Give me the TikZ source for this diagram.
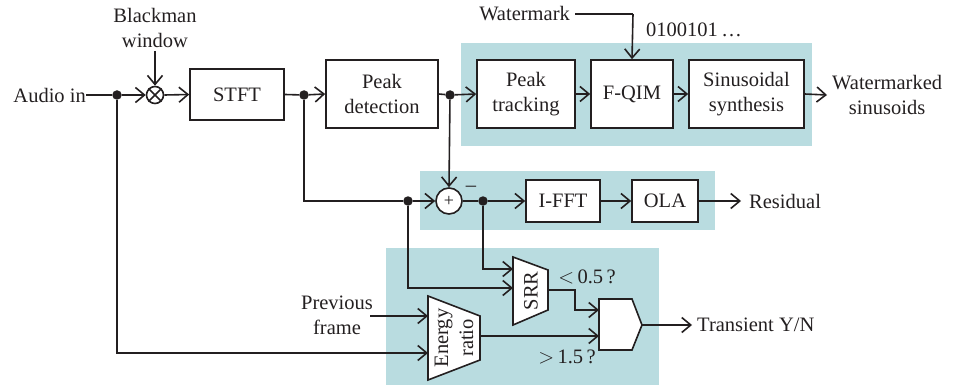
\documentclass[tikz,border=0pt]{standalone}
\usepackage{fontspec}
\setmainfont{Liberation Serif}
\usetikzlibrary{arrows.meta}
\definecolor{teal}{RGB}{185,220,224}
\definecolor{ink}{RGB}{35,31,32}
\begin{document}
\begin{tikzpicture}[x=1pt,y=-1pt,
  every node/.style={font=\fontsize{20.5}{25}\selectfont, text=ink},
  line/.style={draw=ink, line width=1.6},
  arr/.style={line, -{Straight Barb[length=9,width=15,line width=1.6]}},
  blk/.style={draw=ink, line width=1.6, fill=white, align=center, inner sep=0},
  dot/.style={circle, fill=ink, inner sep=0, minimum size=9.5},
  lbl/.style={align=center, inner sep=0}]
\useasboundingbox (0,0) rectangle (966,385);
% teal backgrounds
\fill[teal] (461,43) rectangle (812,146);
\fill[teal] (420,171) rectangle (715,230);
\fill[teal] (386,248) rectangle (659,385);

% top row
\node[lbl, anchor=east] (audio) at (86,95) {Audio in};
\node[dot] (d1) at (117,95) {};
\node[circle, draw=ink, line width=1.6, fill=white, minimum size=17, inner sep=0] (mult) at (155,95) {};
\draw[line] (mult.north west) -- (mult.south east) (mult.north east) -- (mult.south west);
\node[lbl] (bw) at (155,28) {Blackman\\window};
\node[blk, minimum width=94, minimum height=51] (stft) at (237,94.5) {STFT};
\node[dot] (d2) at (304,95) {};
\node[blk, minimum width=112, minimum height=68] (pd) at (382,94) {Peak\\detection};
\node[dot] (d3) at (450,95) {};
\node[blk, minimum width=98, minimum height=68] (pt) at (526,94) {Peak\\tracking};
\node[blk, minimum width=82, minimum height=68] (fqim) at (632,94) {F-QIM};
\node[blk, minimum width=115, minimum height=68] (ss) at (746.5,94) {Sinusoidal\\synthesis};
\node[lbl, anchor=west] (ws) at (832,95) {Watermarked\\sinusoids};
\coordinate (wsin) at (827,95);
\node[lbl, anchor=east] (wm) at (570,14) {Watermark};
\coordinate (wmc) at (633,14);
\node[lbl] (bits) at (694,30) {0100101\,\dots};

\draw[line] (audio.east) -- (d1);
\draw[arr] (d1) -- (mult.west);
\draw[arr] (bw.south) ++(0,3) -- (mult.north);
\draw[arr] (mult.east) -- (stft.west);
\draw[line] (stft.east) -- (d2);
\draw[arr] (d2) -- (pd.west);
\draw[line] (pd.east) -- (d3);
\draw[arr] (d3) -- (pt.west);
\draw[arr] (pt.east) -- (fqim.west);
\draw[arr] (fqim.east) -- (ss.west);
\draw[arr] (ss.east) -- (wsin);
\draw[line] (wm.east) ++(5,0) -- (wmc);
\draw[arr] (wmc) -- (fqim.north);

% residual row
\node[circle, draw=ink, line width=1.6, fill=white, minimum size=26, inner sep=0, font=\fontsize{18}{20}\selectfont] (add) at (449,201) {+};
\node[dot] (d4) at (408,201) {};
\node[lbl] (minus) at (471,189) {\textendash};
\node[dot] (d5) at (483,201) {};
\node[blk, minimum width=74, minimum height=42] (ifft) at (563,201) {I-FFT};
\node[blk, minimum width=66, minimum height=42] (ola) at (665,201) {OLA};
\node[lbl, anchor=west] (res) at (749,201) {Residual};
\coordinate (resin) at (741,201);
\coordinate (c1) at (304,201);

\draw[line] (d2) -- (c1) -- (d4);
\draw[arr] (d4) -- (add.west);
\draw[arr] (d3) -- (add.north);
\draw[line] (add.east) -- (d5);
\draw[arr] (d5) -- (ifft.west);
\draw[arr] (ifft.east) -- (ola.west);
\draw[arr] (ola.east) -- (resin);

% transient detection
\draw[line, fill=white] (513,257) -- (548,270) -- (548,310) -- (513,325) -- cycle;
\node[lbl, rotate=90] (srr) at (531,291) {SRR};
\draw[line, fill=white] (428,296) -- (480,316) -- (480,360) -- (428,380) -- cycle;
\node[lbl, rotate=90] (er) at (454,338) {Energy\\ratio};
\draw[line, fill=white] (599,299) -- (632,299) -- (642,325) -- (632,350) -- (599,350) -- cycle;
\coordinate (gate) at (642,325);
\coordinate (srrA) at (513,269);
\coordinate (srrB) at (513,288);
\coordinate (srrO) at (548,290);
\coordinate (erA) at (428,316);
\coordinate (erB) at (428,353);
\coordinate (erO) at (480,336);
\coordinate (gA) at (599,310);
\coordinate (gB) at (599,336);
\coordinate (trin) at (692,325);
\node[lbl] (pf) at (337,315) {Previous\\frame};
\node[lbl] (lt) at (587,277) {$<$\,0.5\,?};
\node[lbl] (gt) at (567,357) {$>$\,1.5\,?};
\node[lbl, anchor=west] (tr) at (697,325) {Transient Y/N};

\draw[arr] (d5) |- (srrA);
\draw[arr] (d4) |- (srrB);
\draw[arr] (pf.east |- erA) ++(-3,0) -- (erA);
\draw[arr] (d1) |- (erB);
\draw[arr] (srrO) -| (575,310) -- (gA);
\draw[arr] (erO) -- (gB);
\draw[arr] (gate) -- (trin);
\end{tikzpicture}
\end{document}
